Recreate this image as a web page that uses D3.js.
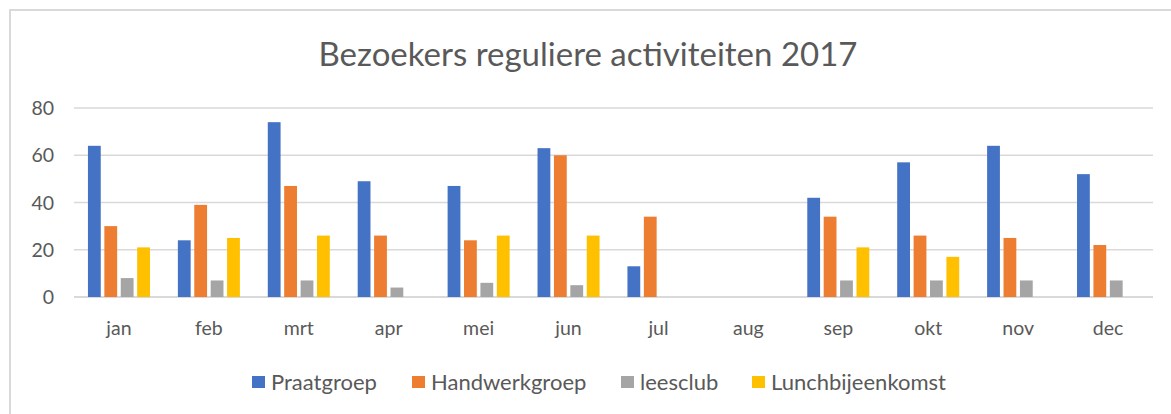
<!DOCTYPE html>
<html>
<head>
<meta charset="utf-8">
<script src="https://cdn.jsdelivr.net/npm/d3@7"></script>
<style>
  body { margin: 0; background: #fff; }
  text { font-family: Lato, "Open Sans", sans-serif; fill: #595959; }
</style>
</head>
<body>
<div id="chart"></div>
<script>
// data
const months = ["jan", "feb", "mrt", "apr", "mei", "jun", "jul", "aug", "sep", "okt", "nov", "dec"];
const seriesNames = ["Praatgroep", "Handwerkgroep", "leesclub", "Lunchbijeenkomst"];
const praatgroep = [64, 24, 74, 49, 47, 63, 13, null, 42, 57, 64, 52];
const handwerkgroep = [30, 39, 47, 26, 24, 60, 34, null, 34, 26, 25, 22];
const leesclub = [8, 7, 7, 4, 6, 5, null, null, 7, 7, 7, 7];
const lunch = [21, 25, 26, null, 26, 26, null, null, 21, 17, null, null];
const yTicks = [0, 20, 40, 60, 80];
const colors = ["#4472C4", "#ED7D31", "#A5A5A5", "#FFC000"];

const W = 1171, H = 414;
const margin = {top: 108, right: 18, bottom: 117, left: 74};
const width = W - margin.left - margin.right;
const height = H - margin.top - margin.bottom;

const svg = d3.select("#chart").append("svg")
    .attr("width", W)
    .attr("height", H);

// chart border
svg.append("rect")
    .attr("x", 10).attr("y", 10)
    .attr("width", W).attr("height", H)
    .attr("fill", "none")
    .attr("stroke", "#d9d9d9")
    .attr("stroke-width", 2);

svg.append("text")
    .attr("x", 588).attr("y", 66)
    .attr("text-anchor", "middle")
    .style("font-size", "33px")
    .text("Bezoekers reguliere activiteiten 2017");

const g = svg.append("g").attr("transform", `translate(${margin.left},${margin.top})`);

const x0 = d3.scaleBand().domain(months).range([0, width]);
const x1 = d3.scaleBand().domain(seriesNames).range([0, x0.bandwidth()]).paddingInner(0.22).paddingOuter(0.85);
const y = d3.scaleLinear().domain([0, 80]).range([height, 0]);

// gridlines
g.selectAll(".grid")
    .data(yTicks)
    .join("line")
    .attr("x1", 0).attr("x2", width)
    .attr("y1", d => y(d)).attr("y2", d => y(d))
    .attr("stroke", "#d9d9d9")
    .attr("stroke-width", d => d === 0 ? 2 : 1.5);

// y labels
g.selectAll(".ylab")
    .data(yTicks)
    .join("text")
    .attr("x", -20)
    .attr("y", d => y(d))
    .attr("dy", "0.36em")
    .attr("text-anchor", "end")
    .style("font-size", "19.5px")
    .text(d => d);

// x labels
g.selectAll(".xlab")
    .data(months)
    .join("text")
    .attr("x", d => x0(d) + x0.bandwidth() / 2)
    .attr("y", height + 38)
    .attr("text-anchor", "middle")
    .style("font-size", "19.5px")
    .text(d => d);

const series = [praatgroep, handwerkgroep, leesclub, lunch];
const bars = [];
series.forEach((vals, si) => {
    vals.forEach((v, mi) => {
        if (v != null) bars.push({month: months[mi], name: seriesNames[si], value: v, color: colors[si]});
    });
});

g.selectAll(".bar")
    .data(bars)
    .join("rect")
    .attr("x", d => x0(d.month) + x1(d.name))
    .attr("y", d => y(d.value))
    .attr("width", x1.bandwidth())
    .attr("height", d => y(0) - y(d.value))
    .attr("fill", d => d.color);

// legend
const legendX = [252, 412, 621, 752];
const legend = svg.selectAll(".legend")
    .data(seriesNames)
    .join("g")
    .attr("transform", (d, i) => `translate(${legendX[i]},382)`);
legend.append("rect")
    .attr("x", 0).attr("y", -6)
    .attr("width", 13).attr("height", 12)
    .attr("fill", (d, i) => colors[i]);
legend.append("text")
    .attr("x", 19)
    .attr("dy", "0.35em")
    .style("font-size", "22px")
    .text(d => d);
</script>
</body>
</html>
